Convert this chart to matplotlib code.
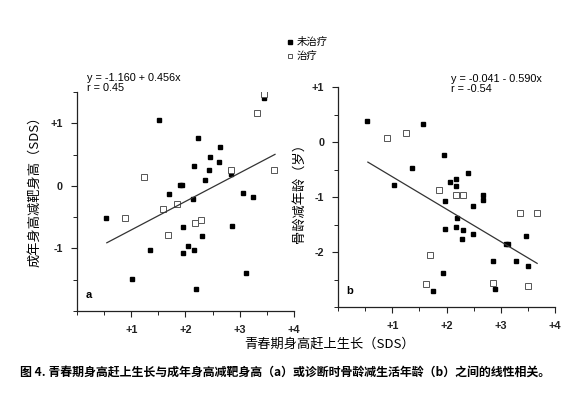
import numpy as np
import matplotlib
matplotlib.use("Agg")
import matplotlib.pyplot as plt
from matplotlib.ticker import MultipleLocator

plt.rcParams["font.family"] = ["Liberation Sans", "Noto Sans CJK SC", "DejaVu Sans"]
CJK = ["Noto Sans CJK SC", "DejaVu Sans"]

# panel a: catch-up growth vs adult height minus target height (SDS)
a_untreated_x = [0.53, 1.52, 2.23, 2.64, 2.46, 2.62, 2.15, 2.44, 2.83, 2.36, 1.90, 1.94,
                 1.70, 2.14, 3.06, 3.25, 1.95, 2.86, 2.30, 1.35, 2.04, 1.96, 2.15, 1.02,
                 3.12, 2.20, 3.45]
a_untreated_y = [-0.52, 1.06, 0.77, 0.62, 0.47, 0.39, 0.32, 0.25, 0.19, 0.09, 0.02, 0.02,
                 -0.13, -0.21, -0.12, -0.18, -0.65, -0.64, -0.80, -1.03, -0.96, -1.07, -1.03, -1.49,
                 -1.39, -1.65, 1.41]
a_treated_x = [3.44, 3.32, 1.23, 2.83, 3.64, 0.89, 1.58, 1.85, 2.17, 2.29, 1.67]
a_treated_y = [1.47, 1.16, 0.15, 0.25, 0.26, -0.52, -0.37, -0.29, -0.59, -0.55, -0.78]
a_fit = (-1.160, 0.456)
a_fit_range = [0.55, 3.65]

# panel b: catch-up growth vs bone age minus chronological age (years)
b_untreated_x = [0.54, 1.56, 1.96, 1.37, 1.03, 2.40, 2.06, 2.17, 2.17, 2.68, 2.67, 1.98,
                 2.48, 2.20, 1.97, 2.18, 2.30, 2.49, 2.28, 3.09, 3.13, 3.46, 2.85, 3.28,
                 3.51, 1.94, 1.75, 2.89]
b_untreated_y = [0.38, 0.32, -0.23, -0.48, -0.79, -0.57, -0.72, -0.67, -0.80, -0.97, -1.06, -1.07,
                 -1.17, -1.38, -1.58, -1.55, -1.60, -1.68, -1.76, -1.85, -1.85, -1.71, -2.17, -2.17,
                 -2.26, -2.39, -2.71, -2.68]
b_treated_x = [0.91, 1.25, 1.86, 2.18, 2.30, 3.35, 3.66, 1.69, 1.63, 2.85, 3.50]
b_treated_y = [0.07, 0.17, -0.87, -0.97, -0.97, -1.29, -1.29, -2.06, -2.59, -2.56, -2.62]
b_fit = (-0.041, -0.590)
b_fit_range = [0.55, 3.67]

x_ticks = [1, 2, 3, 4]
x_ticklabels = ["+1", "+2", "+3", "+4"]


def draw_panel(ax, ux, uy, tx, ty, fit, fit_range, ylim, yticks, yticklabels, letter):
    ax.plot(ux, uy, "s", color="black", markersize=3.4, linestyle="none")
    ax.plot(tx, ty, "s", markerfacecolor="white", markeredgecolor="#555555",
            markeredgewidth=0.7, markersize=3.7, linestyle="none")
    fx = np.array(fit_range)
    ax.plot(fx, fit[0] + fit[1] * fx, color="#333333", linewidth=0.9)

    ax.set_xlim(0, 4)
    ax.set_ylim(*ylim)
    ax.set_xticks(x_ticks)
    ax.set_xticklabels(x_ticklabels)
    ax.set_yticks(yticks)
    ax.set_yticklabels(yticklabels)
    ax.xaxis.set_minor_locator(MultipleLocator(0.5))
    ax.yaxis.set_minor_locator(MultipleLocator(0.5))
    ax.tick_params(which="major", direction="out", length=4, width=0.8,
                   labelsize=7.8, colors="#222222", pad=6)
    ax.tick_params(which="minor", direction="out", length=3, width=0.7, colors="#222222")
    for lab in ax.get_xticklabels() + ax.get_yticklabels():
        lab.set_fontweight("bold")
    for s in ["top", "right"]:
        ax.spines[s].set_visible(False)
    for s in ["left", "bottom"]:
        ax.spines[s].set_linewidth(0.9)
        ax.spines[s].set_color("#222222")
    ax.text(0.04, 0.05, letter, transform=ax.transAxes, fontsize=8,
            fontweight="bold", ha="left", va="bottom")


fig = plt.figure(figsize=(5.81, 3.98), dpi=100)

ax_a = fig.add_axes([0.1325, 0.2186, 0.3735, 0.550])
draw_panel(ax_a, a_untreated_x, a_untreated_y, a_treated_x, a_treated_y,
           a_fit, a_fit_range, (-2, 1.5), [-1, 0, 1], ["-1", "0", "+1"], "a")
ax_a.text(0.045, 1.085, "y = -1.160 + 0.456x\nr = 0.45", transform=ax_a.transAxes,
          fontsize=7.8, ha="left", va="top", linespacing=1.0)
ax_a.set_ylabel("成年身高减靶身高（SDS）", family=CJK, fontsize=9.5)
ax_a.yaxis.set_label_coords(-0.165, 0.56)

ax_b = fig.add_axes([0.5818, 0.2286, 0.3735, 0.5528])
draw_panel(ax_b, b_untreated_x, b_untreated_y, b_treated_x, b_treated_y,
           b_fit, b_fit_range, (-3, 1), [-2, -1, 0, 1], ["-2", "-1", "0", "+1"], "b")
ax_b.text(0.52, 1.06, "y = -0.041 - 0.590x\nr = -0.54", transform=ax_b.transAxes,
          fontsize=7.8, ha="left", va="top", linespacing=1.0)
ax_b.set_ylabel("骨龄减年龄（岁）", family=CJK, fontsize=9.5)
ax_b.yaxis.set_label_coords(-0.15, 0.53)

# legend at top
fig.lines.append(plt.Line2D([290 / 581], [1 - 42 / 398], marker="s", color="black",
                            markersize=3, linestyle="none", transform=fig.transFigure))
fig.lines.append(plt.Line2D([290 / 581], [1 - 56 / 398], marker="s", markerfacecolor="white",
                            markeredgecolor="#555555", markeredgewidth=0.7, markersize=3.4,
                            linestyle="none", transform=fig.transFigure))
fig.text(297 / 581, 1 - 42 / 398, "未治疗", family=CJK, fontsize=7.5, va="center")
fig.text(297 / 581, 1 - 56 / 398, "治疗", family=CJK, fontsize=7.5, va="center")

fig.text(330 / 581, 1 - 344 / 398, "青春期身高赶上生长（SDS）", family=CJK,
         fontsize=9.5, ha="center", va="center")
fig.text(20 / 581, 1 - 372 / 398,
         "图 4. 青春期身高赶上生长与成年身高减靶身高（a）或诊断时骨龄减生活年龄（b）之间的线性相关。",
         family=CJK, fontsize=8.6, fontweight="bold", ha="left", va="center")

fig.savefig("out.png", dpi=100, facecolor="white")
